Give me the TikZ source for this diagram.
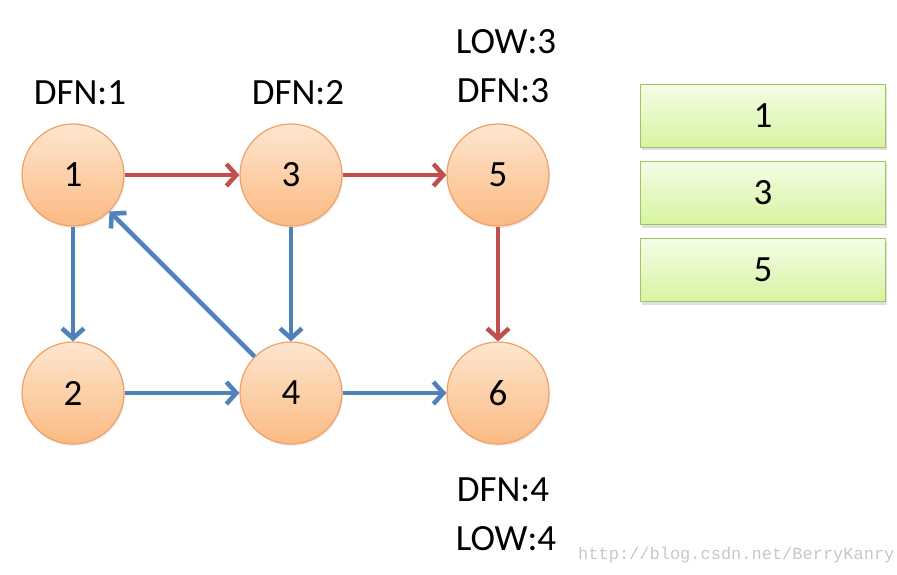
\documentclass[tikz,border=0pt]{standalone}
\usepackage{fontspec}
\setmainfont{Carlito}
\newfontfamily\markfont{Liberation Mono}
\usetikzlibrary{arrows.meta,shadows}
\definecolor{nodeEdge}{RGB}{240,160,100}
\definecolor{nodeTop}{RGB}{254,230,208}
\definecolor{nodeBottom}{RGB}{251,186,130}
\definecolor{boxEdge}{RGB}{160,196,100}
\definecolor{boxTop}{RGB}{244,253,230}
\definecolor{boxBottom}{RGB}{214,244,160}
\definecolor{treeRed}{RGB}{192,80,77}
\definecolor{backBlue}{RGB}{79,129,189}
\tikzset{
  vertex/.style={circle, draw=nodeEdge, line width=1.2pt, minimum size=102pt, inner sep=0pt,
    top color=nodeTop, bottom color=nodeBottom, drop shadow={opacity=.15, shadow xshift=1pt, shadow yshift=-2pt},
    font=\fontsize{37}{44}\selectfont},
  stackbox/.style={rectangle, draw=boxEdge, line width=1.2pt, minimum width=245pt, minimum height=63pt,
    top color=boxTop, bottom color=boxBottom, drop shadow={opacity=.25, shadow xshift=1pt, shadow yshift=-3pt},
    font=\fontsize{37}{44}\selectfont},
  tag/.style={font=\fontsize{37}{44}\selectfont, inner sep=0pt},
  treeedge/.style={draw=treeRed, line width=4.5pt, -{Straight Barb[length=10pt,width=22pt]}},
  backedge/.style={draw=backBlue, line width=4.5pt, -{Straight Barb[length=10pt,width=22pt]}}
}
\begin{document}
\begin{tikzpicture}[x=1pt, y=-1pt]
	\useasboundingbox (0,0) rectangle (897,575);
	\node[vertex] (v1) at (73,175) {1};
	\node[vertex] (v3) at (291,175) {3};
	\node[vertex] (v5) at (498,175) {5};
	\node[vertex] (v2) at (73,393) {2};
	\node[vertex] (v4) at (291,393) {4};
	\node[vertex] (v6) at (498,393) {6};
	\node[tag] (dfnA) at (80,93) {DFN:1};
	\node[tag] (dfnB) at (298,93) {DFN:2};
	\node[tag] (lowC) at (506,42) {LOW:3};
	\node[tag] (dfnC) at (503,91) {DFN:3};
	\node[tag] (dfnD) at (503,490) {DFN:4};
	\node[tag] (lowD) at (506,539) {LOW:4};
	\node[stackbox] (stackA) at (763,116) {1};
	\node[stackbox] (stackB) at (763,193) {3};
	\node[stackbox] (stackC) at (763,270) {5};
	\draw[treeedge] (v1) -- (v3);
	\draw[treeedge] (v3) -- (v5);
	\draw[treeedge] (v5) -- (v6);
	\draw[backedge] (v1) -- (v2);
	\draw[backedge] (v3) -- (v4);
	\draw[backedge] (v2) -- (v4);
	\draw[backedge] (v4) -- (v6);
	\draw[backedge] (v4) -- (v1);
	\node[anchor=west, inner sep=0pt, text=black!22, font=\markfont\fontsize{17}{20}\selectfont] (mark) at (578,555) {http://blog.csdn.net/BerryKanry};
\end{tikzpicture}
\end{document}
